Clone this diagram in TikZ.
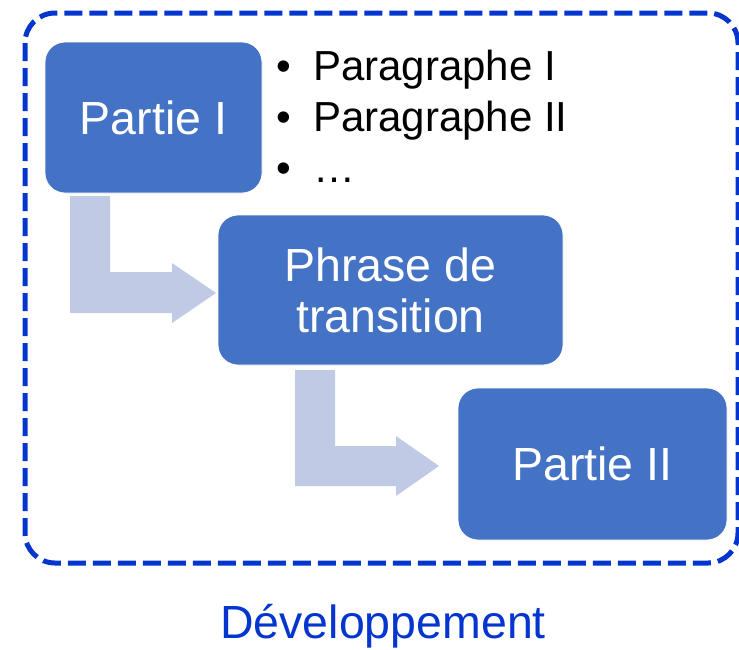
\documentclass[tikz,border=0pt]{standalone}
\usepackage{fontspec}
\setmainfont{Liberation Sans}
\definecolor{boxblue}{HTML}{4472C4}
\definecolor{arrowfill}{HTML}{C0CAE4}
\definecolor{frameblue}{HTML}{0435CF}
\tikzset{
  partbox/.style={draw=white, line width=0.8pt, fill=boxblue, rounded corners=20pt, text=white,
    inner sep=0pt, font=\fontsize{46.5}{51}\selectfont, align=center},
  bentarrow/.style={fill=arrowfill, draw=none},
  bullettext/.style={anchor=base west, inner sep=0pt, font=\fontsize{42}{50}\selectfont},
}
\begin{document}
\begin{tikzpicture}[x=1pt,y=-1pt]
\useasboundingbox (0,0) rectangle (739,649);
\draw[frameblue, line width=5pt, dash pattern=on 18pt off 7pt, rounded corners=30pt]
  (25,13) rectangle (738,563);
\node[partbox, minimum width=217pt, minimum height=151pt] (p1) at (153.5,117.5) {Partie I};
\node[partbox, minimum width=345pt, minimum height=150pt] (p2) at (390.5,290) {Phrase de\\transition};
\node[partbox, minimum width=269pt, minimum height=152pt] (p3) at (592.5,464) {Partie II};
\coordinate (a1) at (70,196);
\coordinate (a2) at (295,370);
\fill[bentarrow] (a1) -- ++(40,0) -- ++(0,76) -- ++(62,0) -- ++(0,-9) -- ++(44,30) -- ++(-44,30) -- ++(0,-10) -- ++(-102,0) -- cycle;
\fill[bentarrow] (a2) -- ++(40,0) -- ++(0,76) -- ++(61,0) -- ++(0,-10) -- ++(43,30) -- ++(-43,30) -- ++(0,-10) -- ++(-101,0) -- cycle;
\node[bullettext] (b1) at (276,80) {\makebox[37pt][l]{•}Paragraphe I};
\node[bullettext] (b2) at (276,131) {\makebox[37pt][l]{•}Paragraphe II};
\node[bullettext] (b3) at (276,182) {\makebox[37pt][l]{•}…};
\node[anchor=base, inner sep=0pt, text=frameblue, font=\fontsize{46.5}{50}\selectfont] (dev) at (383,638) {Développement};
\end{tikzpicture}
\end{document}
